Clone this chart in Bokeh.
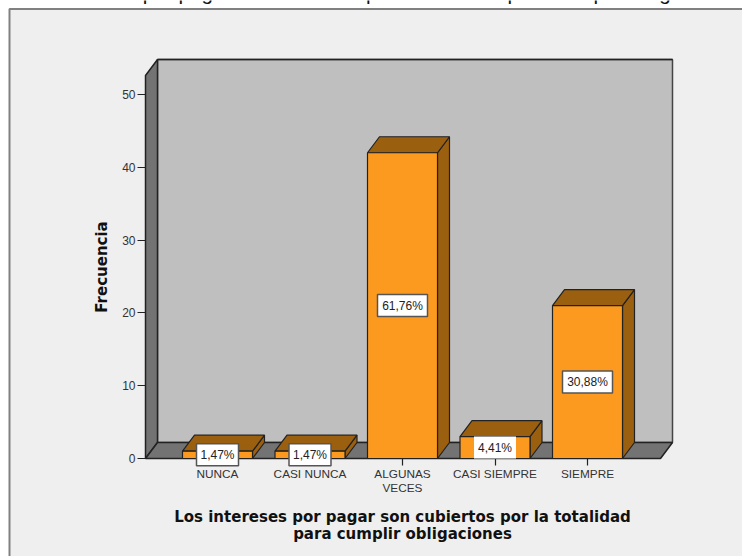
from bokeh.core.properties import value
from bokeh.embed import file_html
from bokeh.models import FixedTicker, LinearAxis, Range1d
from bokeh.plotting import figure
from bokeh.resources import INLINE

# Survey answers and their counts
categories = ["NUNCA", "CASI NUNCA", "ALGUNAS\nVECES", "CASI SIEMPRE", "SIEMPRE"]
frequencies = [1, 1, 42, 3, 21]
percent_labels = ["1,47%", "1,47%", "61,76%", "4,41%", "30,88%"]
y_ticks = [0, 10, 20, 30, 40, 50]
page_title = "Los intereses por pagar son cubiertos por la totalidad para cumplir obligaciones"
x_title_lines = ["Los intereses por pagar son cubiertos por la totalidad", "para cumplir obligaciones"]
y_title = "Frecuencia"

# Page layout: one data unit in pixels, and where the origin sits on the page
W, H = 742, 556
X0, UX = 217.0, 92.5
Y0, UY = 458.0, 7.28

def px(x):
    return (x - X0) / UX

def py(y):
    return (Y0 - y) / UY

# Depth of the fake 3D extrusion, in data units
DX, DY = 12 / UX, 16 / UY
BAR_W = 70 / UX
AXIS_TOP = 52.6
AXIS_L, AXIS_R = px(145), px(660)

ORANGE = "#fc9a1f"
BROWN = "#9b5f10"
WALL = "#bfbfbf"
SHADE = "#737373"
EDGE = "#222222"
TEXT = "#333333"

p = figure(width=W, height=H, output_backend="svg", toolbar_location=None, min_border=0,
           x_range=Range1d(px(0), px(W)), y_range=Range1d(py(H), py(0)),
           x_axis_type=None, y_axis_type=None, background_fill_color="white",
           border_fill_color="white", outline_line_color=None)
p.grid.visible = False

# Running head cut off by the top of the page
p.text(x=[px(377.5)], y=[py(-8)], text=[page_title], text_align="center", text_baseline="alphabetic",
       text_font=value("Liberation Sans"), text_font_size="20.7px", text_color="#111111")

# Chart area panel
p.quad(left=[px(9)], right=[px(W + 20)], bottom=[py(H + 20)], top=[py(8.5)],
       fill_color="#efefef", line_color="#808080", line_width=2)

# Back wall, side wall and floor
p.patch([AXIS_L + DX, AXIS_R + DX, AXIS_R + DX, AXIS_L + DX],
        [DY, DY, AXIS_TOP + DY, AXIS_TOP + DY],
        fill_color=WALL, line_color="#444444", line_width=1.5)
p.line([AXIS_L + DX, AXIS_R + DX], [AXIS_TOP + DY, AXIS_TOP + DY], line_color=EDGE, line_width=1.5)
p.patch([AXIS_L, AXIS_L + DX, AXIS_L + DX, AXIS_L],
        [0, DY, AXIS_TOP + DY, AXIS_TOP],
        fill_color=SHADE, line_color=EDGE, line_width=1.5)
p.patch([AXIS_L, AXIS_L + DX, AXIS_R + DX, AXIS_R],
        [0, DY, DY, 0],
        fill_color=SHADE, line_color=EDGE, line_width=1.5)

# Extruded bars: front, top and right faces
for i, v in enumerate(frequencies):
    l, r = i - BAR_W / 2, i + BAR_W / 2
    p.patch([r, r + DX, r + DX, r], [0, DY, v + DY, v],
            fill_color=BROWN, line_color=EDGE, line_width=1.2)
    p.patch([l, r, r + DX, l + DX], [v, v, v + DY, v + DY],
            fill_color=BROWN, line_color=EDGE, line_width=1.2)
    p.patch([l, r, r, l], [0, 0, v, v],
            fill_color=ORANGE, line_color=EDGE, line_width=1.2)

# Axes
x_axis = LinearAxis(fixed_location=0, ticker=FixedTicker(ticks=list(range(len(categories)))),
                    major_label_overrides={i: c for i, c in enumerate(categories)},
                    axis_line_color=None, major_tick_line_color=EDGE, major_tick_line_width=1.2,
                    major_tick_in=0, major_tick_out=7, minor_tick_line_color=None,
                    major_label_standoff=1, major_label_text_font="Liberation Sans",
                    major_label_text_font_size="11.8px", major_label_text_color=TEXT,
                    major_label_text_line_height=1.0)
p.add_layout(x_axis, "below")
y_axis = LinearAxis(fixed_location=AXIS_L, ticker=FixedTicker(ticks=y_ticks), bounds=(0, AXIS_TOP),
                    axis_line_color=None, major_tick_line_color=EDGE, major_tick_line_width=1.2,
                    major_tick_in=0, major_tick_out=8, minor_tick_line_color=None,
                    major_label_standoff=2, major_label_text_font="Liberation Sans",
                    major_label_text_font_size="12px", major_label_text_color=TEXT)
p.add_layout(y_axis, "left")

# Percentage tags at the middle of each bar; the short bar's tag has no visible frame
xs = list(range(len(frequencies)))
mids = [v / 2 for v in frequencies]
boxes = p.rect(x=xs, y=mids, width=[(8 * len(t) + 2) for t in percent_labels], height=22,
               width_units="screen", height_units="screen", fill_color="white",
               line_color=["#555555", "#555555", "#555555", None, "#555555"], line_width=1.5)
tags = p.text(x=xs, y=mids, text=percent_labels, text_align="center", text_baseline="middle",
              text_font=value("Liberation Sans"), text_font_size="12px", text_color="#222222")
boxes.level = "overlay"
tags.level = "overlay"

# Axis titles
p.text(x=[px(101)], y=[py(266.5)], text=[y_title], angle=[90], angle_units="deg",
       text_align="center", text_baseline="middle", text_font=value("DejaVu Sans"),
       text_font_style="bold", text_font_size="15px", text_color="#111111")
p.text(x=[px(402), px(402)], y=[py(516.5), py(533.5)], text=x_title_lines, text_align="center",
       text_baseline="middle", text_font=value("DejaVu Sans"), text_font_style="bold",
       text_font_size="15px", text_color="#111111")

open("out.html", "w").write(file_html(p, INLINE))
